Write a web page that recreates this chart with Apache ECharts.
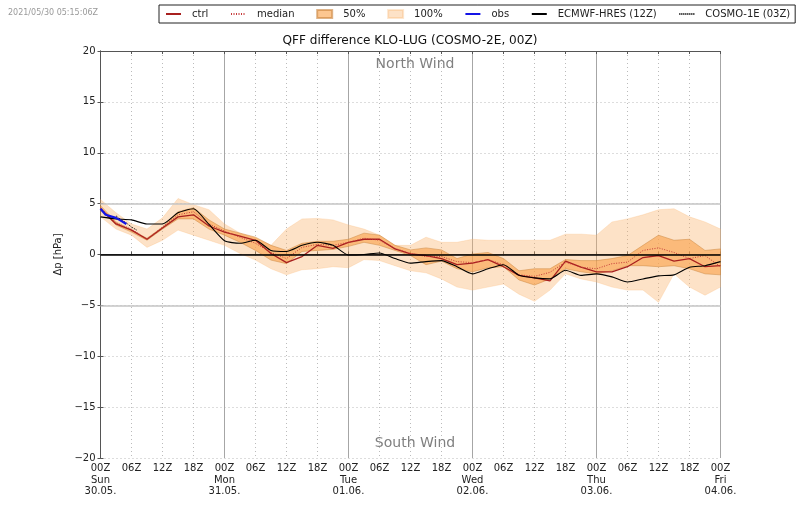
<!DOCTYPE html>
<html>
<head>
<meta charset="utf-8">
<title>QFF difference KLO-LUG</title>
<script src="https://cdn.jsdelivr.net/npm/echarts@6/dist/echarts.min.js"></script>
<style>
  html, body { margin: 0; padding: 0; background: #fff; }
  #main { width: 800px; height: 509px; }
</style>
</head>
<body>
<div id="main"></div>
<script>
// forecast hours, one value every 3 h from 30.05. 00Z
var hours = [0,3,6,9,12,15,18,21,24,27,30,33,36,39,42,45,48,51,54,57,60,63,66,69,72,75,78,81,84,87,90,93,96,99,102,105,108,111,114,117,120];

var max100 = [5.4,4.1,3.0,2.5,3.6,5.5,4.9,4.4,3.0,2.1,1.6,0.9,2.5,3.5,3.55,3.4,2.9,2.5,1.9,0.9,0.9,1.7,1.2,1.2,1.5,1.4,1.4,1.4,1.4,1.4,2.0,2.0,1.9,3.2,3.5,3.9,4.4,4.5,3.7,3.2,2.5];
var min100 = [3.7,2.5,1.9,0.7,1.4,2.4,1.9,1.4,0.9,0.1,-0.55,-1.4,-2.0,-1.5,-1.4,-1.2,-1.3,-0.5,-0.6,-1.1,-1.6,-1.8,-2.4,-3.2,-3.5,-3.2,-2.9,-3.9,-4.6,-3.5,-1.9,-2.4,-2.7,-3.2,-3.5,-3.5,-4.7,-1.9,-3.2,-4.0,-3.2];
var upper50 = [4.8,3.2,2.4,1.6,2.7,4.2,4.6,3.4,2.5,2.1,1.7,0.9,0.4,1.1,1.3,1.3,1.5,2.1,1.9,0.9,0.45,0.65,0.45,-0.4,0.05,0.2,-0.4,-1.6,-1.4,-1.4,-0.5,-0.6,-0.6,-0.4,-0.1,0.9,1.9,1.4,1.5,0.4,0.55];
var lower50 = [4.4,2.9,2.2,1.4,2.5,3.5,3.5,2.5,1.9,1.2,0.4,-0.55,-0.9,0.3,0.4,0.5,0.8,1.2,0.9,0.4,-0.1,-1.0,-0.65,-1.4,-1.7,-1.3,-1.2,-2.5,-3.0,-2.4,-1.4,-1.7,-1.9,-1.6,-1.1,-1.1,-1.2,-1.1,-1.4,-1.9,-2.0];
var ctrl = [4.5,3.0,2.4,1.5,2.6,3.7,3.9,2.8,2.2,1.8,1.4,0.1,-0.8,-0.2,0.9,0.6,1.2,1.5,1.5,0.55,0.05,-0.1,-0.4,-1.0,-0.85,-0.5,-1.2,-2.05,-2.3,-2.6,-0.65,-1.25,-1.7,-1.7,-1.2,-0.3,-0.1,-0.65,-0.4,-1.2,-1.1];
var median = [4.6,3.1,2.5,1.5,2.7,3.9,4.2,3.0,2.3,1.7,1.1,0.2,-0.4,0.7,1.0,0.9,1.2,1.6,1.4,0.6,0.1,-0.2,-0.2,-0.7,-0.8,-0.5,-1.0,-2.0,-2.15,-1.75,-0.75,-1.25,-1.4,-0.9,-0.75,0.4,0.65,0.2,-0.4,-0.1,-1.2];
var ecmwf = [3.7,3.5,3.4,3.0,3.0,4.1,4.5,2.95,1.35,1.1,1.4,0.4,0.3,0.9,1.2,0.9,-0.05,0.0,0.15,-0.4,-0.85,-0.7,-0.6,-1.2,-1.9,-1.4,-1.0,-2.05,-2.3,-2.4,-1.55,-2.05,-1.9,-2.2,-2.7,-2.4,-2.1,-2.0,-1.25,-1.1,-0.7];

var obsHours = [0,1,2,3,4,5];
var obs = [4.5,3.9,3.75,3.6,3.3,3.0];
var cosmo1Hours = [3,4,5,6,7];
var cosmo1 = [3.8,3.4,3.1,2.7,2.4];

var hourLabels = ['00Z','06Z','12Z','18Z'];
var dayNames = ['Sun','Mon','Tue','Wed','Thu','Fri'];
var dayDates = ['30.05.','31.05.','01.06.','02.06.','03.06.','04.06.'];

var FONT = 'DejaVu Sans';
var chart = echarts.init(document.getElementById('main'));

function pairs(xs, ys) {
  return xs.map(function (x, i) { return [x, ys[i]]; });
}

// whole band is one polygon, drawn when the first item comes up
function bandSeries(name, lo, hi, fill, stroke) {
  return {
    name: name,
    type: 'custom',
    z: 1,
    silent: true,
    itemStyle: { color: fill, borderColor: stroke, borderWidth: 1 },
    encode: { x: 0, y: [1, 2] },
    data: hours.map(function (h, i) { return [h, lo[i], hi[i]]; }),
    renderItem: function (params, api) {
      if (params.dataIndex !== 0) return;
      var pts = [];
      hours.forEach(function (h, i) { pts.push(api.coord([h, hi[i]])); });
      for (var i = hours.length - 1; i >= 0; i--) pts.push(api.coord([hours[i], lo[i]]));
      return { type: 'polygon', shape: { points: pts }, style: { fill: fill, stroke: stroke, lineWidth: 0.8 } };
    }
  };
}

function lineSeries(name, data, color, width, dash) {
  return {
    name: name,
    type: 'line',
    z: 3,
    symbol: 'none',
    silent: true,
    data: data,
    lineStyle: { color: color, width: width, type: dash },
    itemStyle: { color: color }
  };
}

// legend entry for a line: hide the round symbol, keep the stroke
function lineEntry(name) {
  return { name: name, itemStyle: { opacity: 0, borderWidth: 0 } };
}

var ctrlSeries = lineSeries('ctrl', pairs(hours, ctrl), '#a8201f', 1.3, 'solid');
ctrlSeries.markLine = {
  silent: true,
  symbol: 'none',
  label: { show: false },
  animation: false,
  data: [
    { yAxis: 5, lineStyle: { color: '#c4c4c4', width: 1.5, type: 'solid' } },
    { yAxis: -5, lineStyle: { color: '#c4c4c4', width: 1.5, type: 'solid' } },
    { yAxis: 0, lineStyle: { color: '#000', width: 1.5, type: 'solid' } }
  ]
};

var ecmwfSeries = lineSeries('ECMWF-HRES (12Z)', pairs(hours, ecmwf), '#000', 1.1, 'solid');
ecmwfSeries.smooth = 0.2;

var obsSeries = lineSeries('obs', pairs(obsHours, obs), '#1414e6', 2.2, 'solid');
obsSeries.z = 4;

var axisGrey = '#555';

chart.setOption({
  animation: false,
  backgroundColor: '#fff',
  textStyle: { fontFamily: FONT },
  title: [
    { text: 'QFF difference KLO-LUG (COSMO-2E, 00Z)', left: 405, top: 30, textAlign: 'center',
      textStyle: { fontFamily: FONT, fontSize: 12.1, fontWeight: 'normal', color: '#111' } },
    { text: 'North Wind', left: 410, top: 52, textAlign: 'center',
      textStyle: { fontFamily: FONT, fontSize: 14, fontWeight: 'normal', color: '#808080' } },
    { text: 'South Wind', left: 410, top: 431, textAlign: 'center',
      textStyle: { fontFamily: FONT, fontSize: 14, fontWeight: 'normal', color: '#808080' } },
    { text: '2021/05/30 05:15:06Z', left: 3, top: 4,
      textStyle: { fontFamily: FONT, fontSize: 8, fontWeight: 'normal', color: '#999' } }
  ],
  legend: {
    left: 159,
    top: 5,
    padding: [4, 5, 4, 6],
    itemWidth: 15,
    itemHeight: 8,
    itemGap: 21.7,
    borderColor: '#222',
    borderWidth: 1,
    selectedMode: false,
    textStyle: { fontFamily: FONT, fontSize: 10, color: '#222', padding: [0, 0, 0, 6] },
    data: [
      lineEntry('ctrl'),
      lineEntry('median'),
      { name: '50%', icon: 'rect' },
      { name: '100%', icon: 'rect' },
      lineEntry('obs'),
      lineEntry('ECMWF-HRES (12Z)'),
      lineEntry('COSMO-1E (03Z)')
    ]
  },
  grid: { left: 100.5, right: 79.5, top: 51, bottom: 51, containLabel: false },
  xAxis: [
    {
      type: 'value', min: 0, max: 120, interval: 6,
      axisLine: { lineStyle: { color: axisGrey, width: 1 } },
      axisTick: { inside: true, length: 3, lineStyle: { color: axisGrey } },
      splitLine: { show: true, lineStyle: { color: '#bbb', type: [1, 3], width: 1 } },
      axisLabel: {
        color: '#222', fontFamily: FONT, fontSize: 10, margin: 4.5, lineHeight: 11.7,
        showMinLabel: true, showMaxLabel: true, hideOverlap: false,
        formatter: function (v) {
          var label = hourLabels[(v / 6) % 4];
          if (v % 24 !== 0) return label;
          var d = v / 24;
          return label + '\n' + dayNames[d] + '\n' + dayDates[d];
        }
      }
    },
    {
      // daily lines
      type: 'value', min: 0, max: 120, interval: 24, position: 'bottom',
      axisLine: { show: false }, axisTick: { show: false }, axisLabel: { show: false },
      splitLine: { show: true, lineStyle: { color: '#a6a6a6', width: 1, type: 'solid' } }
    },
    {
      // top frame
      type: 'value', min: 0, max: 120, interval: 6, position: 'top',
      axisLine: { show: true, lineStyle: { color: axisGrey, width: 1 } },
      axisTick: { inside: true, length: 3, lineStyle: { color: axisGrey } },
      axisLabel: { show: false }, splitLine: { show: false }
    }
  ],
  yAxis: [
    {
      type: 'value', min: -20, max: 20, interval: 5,
      name: 'Δp [hPa]', nameLocation: 'middle', nameGap: 29,
      nameTextStyle: { fontFamily: FONT, fontSize: 10, color: '#222' },
      axisLine: { show: true, lineStyle: { color: axisGrey, width: 1 } },
      axisTick: { inside: true, length: 3, lineStyle: { color: axisGrey } },
      splitLine: { show: true, lineStyle: { color: '#bbb', type: [1, 3], width: 1 } },
      axisLabel: {
        color: '#222', fontFamily: FONT, fontSize: 10, margin: 5,
        formatter: function (v) { return String(v).replace('-', '\u2212'); }
      }
    },
    {
      // right frame
      type: 'value', min: -20, max: 20, interval: 5, position: 'right',
      axisLine: { show: true, lineStyle: { color: axisGrey, width: 1 } },
      axisTick: { inside: true, length: 3, lineStyle: { color: axisGrey } },
      axisLabel: { show: false }, splitLine: { show: false }
    }
  ],
  series: [
    bandSeries('100%', min100, max100, 'rgba(250,175,100,0.36)', 'rgba(250,175,100,0.3)'),
    bandSeries('50%', lower50, upper50, 'rgba(250,160,70,0.6)', 'rgba(200,130,60,0.6)'),
    ctrlSeries,
    lineSeries('median', pairs(hours, median), '#c43a3a', 1, [1, 1.5]),
    ecmwfSeries,
    lineSeries('COSMO-1E (03Z)', pairs(cosmo1Hours, cosmo1), '#000', 1, [1, 1]),
    obsSeries
  ]
});
</script>
</body>
</html>
